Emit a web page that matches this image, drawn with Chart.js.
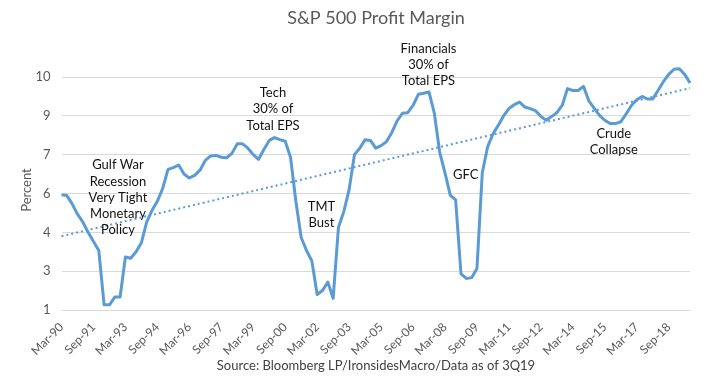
<!DOCTYPE html>
<html>
<head>
<meta charset="utf-8">
<script src="https://cdn.jsdelivr.net/npm/chart.js@4/dist/chart.umd.min.js"></script>
<style>
  html, body { margin: 0; padding: 0; background: #fff; }
  canvas { display: block; }
</style>
</head>
<body>
<canvas id="margin" width="707" height="376"></canvas>
<script>
// quarterly S&P 500 profit margin, 1Q90 .. 3Q19
const margin = [
  5.45, 5.42, 5.1, 4.7, 4.4, 4.0, 3.65, 3.3, 1.2, 1.2,
  1.5, 1.5, 3.05, 3.0, 3.25, 3.6, 4.4, 4.85, 5.2, 5.7,
  6.43, 6.5, 6.6, 6.25, 6.1, 6.2, 6.4, 6.78, 6.95, 6.97,
  6.9, 6.88, 7.05, 7.42, 7.42, 7.25, 7.0, 6.82, 7.2, 7.55,
  7.66, 7.58, 7.52, 6.9, 5.2, 3.8, 3.3, 2.9, 1.6, 1.75,
  2.08, 1.45, 4.2, 4.8, 5.65, 7.0, 7.25, 7.58, 7.55, 7.25,
  7.35, 7.5, 7.85, 8.3, 8.6, 8.62, 8.9, 9.33, 9.37, 9.42,
  8.6, 7.1, 6.3, 5.43, 5.25, 2.4, 2.22, 2.25, 2.6, 6.3,
  7.3, 7.8, 8.13, 8.5, 8.78, 8.93, 9.03, 8.84, 8.78, 8.7,
  8.48, 8.33, 8.47, 8.62, 8.9, 9.55, 9.48, 9.48, 9.64, 9.08,
  8.8, 8.52, 8.33, 8.2, 8.2, 8.27, 8.57, 8.9, 9.12, 9.25,
  9.15, 9.15, 9.48, 9.82, 10.1, 10.3, 10.32, 10.1, 9.77
];

// linear trend, ends
const trendStart = 3.85;
const trendEnd = 9.57;

const months = ["Mar", "Jun", "Sep", "Dec"];
const quarters = [];
for (let i = 0; i < margin.length; i++) {
  const yr = (1990 + Math.floor(i / 4)) % 100;
  quarters.push(months[i % 4] + "-" + String(yr).padStart(2, "0"));
}

const trend = margin.map(() => null);
trend[0] = trendStart;
trend[trend.length - 1] = trendEnd;

// y axis: 1..10 in steps of 1.5, labels rounded like the original
const yMin = 1, yMax = 10, yStep = 1.5;

// annotations: text lines anchored at (quarter index, value) of first line
const notes = [
  { at: [10.6, 6.59], lines: ["Gulf War", "Recession", "Very Tight", "Monetary", "Policy"] },
  { at: [39.7, 9.38], lines: ["Tech", "30% of", "Total EPS"] },
  { at: [48.8, 4.98], lines: ["TMT", "Bust"] },
  { at: [68.9, 11.09], lines: ["Financials", "30% of", "Total EPS"] },
  { at: [75.9, 6.24], lines: ["GFC"] },
  { at: [103.7, 7.81], lines: ["Crude", "Collapse"] },
];

const titleText = "S&P 500 Profit Margin";
const sourceText = "Source: Bloomberg LP/IronsidesMacro/Data as of 3Q19";
const FONT = "Lato, 'Liberation Sans', sans-serif";

const textPlugin = {
  id: "texts",
  afterDraw(chart) {
    const ctx = chart.ctx;
    const xs = chart.scales.x, ys = chart.scales.y;
    ctx.save();
    ctx.textAlign = "center";
    ctx.textBaseline = "middle";

    ctx.fillStyle = "#595959";
    ctx.font = "18px " + FONT;
    ctx.fillText(titleText, 376, 18);

    ctx.fillStyle = "#404040";
    ctx.font = "13px " + FONT;
    ctx.fillText(sourceText, 376, 366);

    ctx.save();
    ctx.translate(27, 190);
    ctx.rotate(-Math.PI / 2);
    ctx.fillStyle = "#595959";
    ctx.fillText("Percent", 0, 0);
    ctx.restore();

    ctx.fillStyle = "#111";
    ctx.font = "13px " + FONT;
    notes.forEach((n) => {
      const x = xs.getPixelForValue(n.at[0]);
      const y = ys.getPixelForValue(n.at[1]);
      n.lines.forEach((t, k) => ctx.fillText(t, x, y + k * 16.2));
    });
    ctx.restore();
  },
};

new Chart(document.getElementById("margin"), {
  type: "line",
  data: {
    labels: quarters,
    datasets: [
      {
        data: margin,
        borderColor: "#5b9bd5",
        borderWidth: 3,
        borderJoinStyle: "round",
        pointRadius: 0,
        tension: 0,
        clip: false,
      },
      {
        data: trend,
        borderColor: "#5b9bd5",
        borderWidth: 2,
        borderDash: [2, 3],
        pointRadius: 0,
        spanGaps: true,
      },
    ],
  },
  options: {
    responsive: false,
    animation: false,
    layout: { padding: { top: 77, right: 17, left: 0, bottom: 0 } },
    scales: {
      x: {
        offset: false,
        grid: { display: false },
        border: { display: false },
        afterFit: (s) => { s.height = 66; },
        ticks: {
          autoSkip: false,
          maxRotation: 45,
          minRotation: 45,
          color: "#595959",
          font: { family: FONT, size: 12 },
          padding: 2,
          callback: function (v, i) {
            return i % 6 === 0 ? this.getLabelForValue(v) : null;
          },
        },
      },
      y: {
        min: yMin,
        max: yMax,
        grid: { color: "#d9d9d9", drawTicks: false },
        border: { display: false },
        afterFit: (s) => { s.width = 61.5; },
        ticks: {
          stepSize: yStep,
          color: "#595959",
          font: { family: FONT, size: 13 },
          padding: 11,
          callback: (v) => Math.round(v),
        },
      },
    },
    plugins: {
      legend: { display: false },
      tooltip: { enabled: false },
    },
  },
  plugins: [textPlugin],
});
</script>
</body>
</html>
